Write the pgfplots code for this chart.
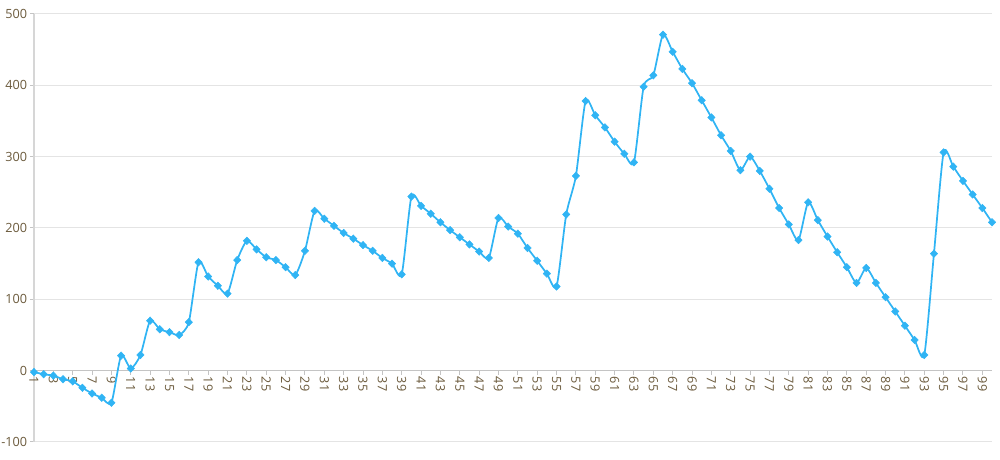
\documentclass[border=0pt]{standalone}
\usepackage{pgfplots}
\pgfplotsset{compat=1.18}
\usepackage{fontspec}
\setmainfont{Open Sans}
\definecolor{linec}{HTML}{30B4F4}
\definecolor{gridc}{HTML}{E4E4E4}
\definecolor{yaxisc}{HTML}{D6D6D6}
\definecolor{xaxisc}{HTML}{C4C4C4}
\definecolor{labelc}{HTML}{6B5A3C}
\pgfplotstableread{
x y
1 -2
2 -5
3 -7
4 -12
5 -15
6 -24
7 -32
8 -38
9 -45
10 21
11 3
12 22
13 70
14 58
15 54
16 50
17 68
18 152
19 132
20 119
21 108
22 155
23 182
24 170
25 159
26 155
27 145
28 134
29 168
30 224
31 213
32 203
33 193
34 185
35 176
36 168
37 158
38 150
39 135
40 244
41 231
42 220
43 208
44 197
45 187
46 177
47 167
48 158
49 214
50 202
51 192
52 172
53 154
54 136
55 118
56 219
57 273
58 378
59 358
60 341
61 321
62 304
63 292
64 398
65 414
66 471
67 447
68 423
69 403
70 379
71 355
72 330
73 308
74 281
75 300
76 280
77 255
78 228
79 205
80 183
81 236
82 211
83 188
84 166
85 145
86 123
87 144
88 123
89 103
90 83
91 63
92 43
93 22
94 164
95 306
96 286
97 266
98 247
99 228
100 208
}\datatable
\begin{document}
\begin{tikzpicture}
\begin{axis}[
  scale only axis, width=718.5pt, height=321pt,
  xmin=1, xmax=100, ymin=-100, ymax=500,
  axis y line=left, axis x line=middle,
  axis line style={-},
  y axis line style={draw=yaxisc, line width=1.5pt},
  x axis line style={draw=xaxisc, line width=0.8pt},
  xtick={1,3,...,99}, ytick={-100,0,...,500},
  ymajorgrids, grid style={gridc, line width=0.75pt},
  tick align=outside, major tick length=3pt,
  tick style={xaxisc, line width=0.75pt},
  hide obscured x ticks=false, hide obscured y ticks=false,
  /pgf/number format/assume math mode=true,
  tick label style={font=\fontsize{9.5}{11}\selectfont, text=labelc},
  xticklabel style={rotate=-90, anchor=west, inner sep=1.5pt},
  yticklabel style={inner sep=2pt},
  clip=false,
]
\addplot[linec, line width=1.3pt, smooth, tension=0.4, mark=diamond*,
  mark size=2.8pt, mark options={fill=linec, draw=linec, line width=0.4pt, xscale=1.3}]
  table[x=x, y=y] {\datatable};
\coordinate (bl) at (rel axis cs:0,0);
\coordinate (tr) at (rel axis cs:1,1);
\end{axis}
\pgfresetboundingbox
\path ([xshift=-25.5pt,yshift=-13.5pt]bl) rectangle ([xshift=6pt,yshift=10.5pt]tr);
\end{tikzpicture}
\end{document}
